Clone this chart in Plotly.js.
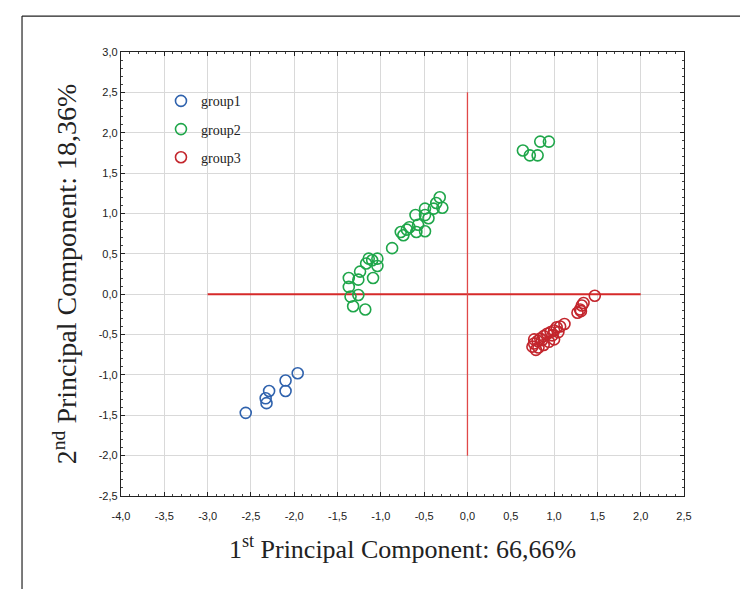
<!DOCTYPE html>
<html>
<head>
<meta charset="utf-8">
<script src="https://cdn.plot.ly/plotly-3.0.1.min.js"></script>
<style>
html,body{margin:0;padding:0;background:#fff;}
#chart{width:740px;height:589px;}
</style>
</head>
<body>
<div id="chart"></div>
<script>
// ---- data ----
const group1X = [-2.56, -2.32, -2.33, -2.29, -2.10, -2.10, -1.96];
const group1Y = [-1.47, -1.35, -1.29, -1.20, -1.07, -1.20, -0.98];

const group2X = [-1.37, -1.37, -1.26, -1.24, -1.35, -1.26, -1.32, -1.18, -1.09, -1.17,
                 -1.14, -1.10, -1.04, -1.04, -0.87, -0.77, -0.74, -0.70, -0.67, -0.59,
                 -0.57, -0.60, -0.49, -0.49, -0.49, -0.45, -0.39, -0.36, -0.32, -0.29,
                  0.64,  0.72,  0.81,  0.84,  0.94];
const group2Y = [ 0.20,  0.09,  0.18,  0.28, -0.03, -0.01, -0.15, -0.19,  0.20,  0.38,
                  0.44,  0.42,  0.44,  0.35,  0.57,  0.77,  0.73,  0.80,  0.83,  0.77,
                  0.86,  0.98,  0.78,  1.06,  0.98,  0.94,  1.06,  1.13,  1.20,  1.07,
                  1.78,  1.72,  1.72,  1.89,  1.89];

const group3X = [1.47, 1.32, 1.34, 1.30, 1.27, 1.31, 1.12, 1.07, 1.03, 1.00,
                 0.96, 0.92, 0.88, 0.84, 0.81, 0.77, 0.75, 0.79, 0.82, 0.88,
                 0.94, 1.00, 1.05, 0.86, 0.77, 0.98];
const group3Y = [-0.02, -0.14, -0.11, -0.19, -0.23, -0.21, -0.37, -0.40, -0.41, -0.45,
                 -0.47, -0.49, -0.52, -0.55, -0.58, -0.61, -0.65, -0.69, -0.66, -0.63,
                 -0.59, -0.56, -0.47, -0.57, -0.56, -0.51];

const axisLineHX = [-3.0, 2.0], axisLineHY = [0, 0];
const axisLineVX = [0, 0],      axisLineVY = [-2.0, 2.5];

const xTickVals = [-4.0, -3.5, -3.0, -2.5, -2.0, -1.5, -1.0, -0.5, 0.0, 0.5, 1.0, 1.5, 2.0, 2.5];
const xTickText = ["-4,0", "-3,5", "-3,0", "-2,5", "-2,0", "-1,5", "-1,0", "-0,5", "0,0", "0,5", "1,0", "1,5", "2,0", "2,5"];
const yTickVals = [-2.5, -2.0, -1.5, -1.0, -0.5, 0.0, 0.5, 1.0, 1.5, 2.0, 2.5, 3.0];
const yTickText = ["-2,5", "-2,0", "-1,5", "-1,0", "-0,5", "0,0", "0,5", "1,0", "1,5", "2,0", "2,5", "3,0"];

const seriesNames = ["group1", "group2", "group3"];
const seriesColors = ["#2f62ad", "#1fa64a", "#c3262d"];
const xAxisTitle = "1<sup>st</sup> Principal Component: 66,66%";
const yAxisTitle = "2<sup>nd</sup> Principal Component: 18,36%";

// ---- traces ----
const lineTraces = [
  {x: axisLineHX, y: axisLineHY, mode: "lines", line: {color: "#d62a2a", width: 2}, showlegend: false, hoverinfo: "skip"},
  {x: axisLineVX, y: axisLineVY, mode: "lines", line: {color: "#e04848", width: 1.3}, showlegend: false, hoverinfo: "skip"}
];
const groupsX = [group1X, group2X, group3X];
const groupsY = [group1Y, group2Y, group3Y];
const pointTraces = seriesNames.map((n, i) => ({
  x: groupsX[i], y: groupsY[i], name: n, legendgroup: n,
  type: "scatter", mode: "markers",
  marker: {symbol: "circle-open", size: 11, color: seriesColors[i], line: {width: 1.6, color: seriesColors[i]}}
}));

const axisCommon = {
  showgrid: true, gridcolor: "#d9d9d9", gridwidth: 1,
  zeroline: false, showline: true, linecolor: "#222", linewidth: 1.2, mirror: "ticks",
  ticks: "inside", ticklen: 4, tickcolor: "#222", tickmode: "array",
  minor: {dtick: 0.1, ticks: "inside", ticklen: 2, tickcolor: "#444", showgrid: false},
  tickfont: {family: "Liberation Sans, Arial, sans-serif", size: 11, color: "#222"}
};

const layout = {
  width: 740, height: 589,
  margin: {l: 121, r: 56, t: 52, b: 93},
  paper_bgcolor: "#fff", plot_bgcolor: "#fff",
  showlegend: true,
  legend: {x: 0.071, y: 0.925, xanchor: "left", yanchor: "top", traceorder: "grouped", tracegroupgap: 7,
           bgcolor: "rgba(0,0,0,0)", font: {family: "Liberation Serif, Times New Roman, serif", size: 14, color: "#222"}},
  xaxis: Object.assign({}, axisCommon, {range: [-4.0, 2.5], tickvals: xTickVals, ticktext: xTickText, ticklabelstandoff: 10,
    title: {text: xAxisTitle, standoff: 18, font: {family: "Liberation Serif, Times New Roman, serif", size: 26, color: "#222"}}}),
  yaxis: Object.assign({}, axisCommon, {range: [-2.5, 3.0], tickvals: yTickVals, ticktext: yTickText,
    title: {text: yAxisTitle, standoff: 13, font: {family: "Liberation Serif, Times New Roman, serif", size: 28, color: "#222"}}}),
  shapes: [
    {type: "line", xref: "paper", yref: "paper", x0: -0.1758, x1: 1.1, y0: 1.081, y1: 1.081, line: {color: "#222", width: 1.2}},
    {type: "line", xref: "paper", yref: "paper", x0: -0.1758, x1: -0.1758, y0: 1.081, y1: -0.22, line: {color: "#222", width: 1.2}}
  ]
};

Plotly.newPlot("chart", lineTraces.concat(pointTraces), layout, {displayModeBar: false, staticPlot: true});
</script>
</body>
</html>
